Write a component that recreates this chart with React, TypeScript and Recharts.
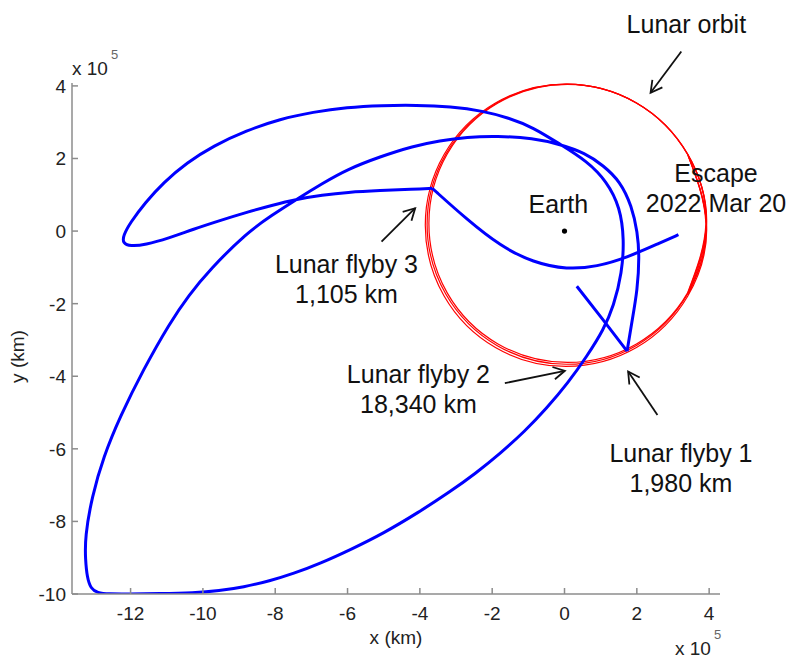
import { ComposedChart, Line, Scatter, XAxis, YAxis, ReferenceDot, ReferenceLine } from "recharts";

// all positions in units of 1e5 km
const xTicks = [-12, -10, -8, -6, -4, -2, 0, 2, 4];
const yTicks = [-10, -8, -6, -4, -2, 0, 2, 4];

// lunar orbit, traced three times (slightly different passes)
const orbitA = [
  { x: 3.40, y: -1.74 }, { x: 3.92, y: 0.19 }, { x: 3.40, y: 2.12 }, { x: 1.99, y: 3.53 },
  { x: 0.06, y: 4.05 }, { x: -1.87, y: 3.53 }, { x: -3.28, y: 2.12 }, { x: -3.80, y: 0.19 },
  { x: -3.28, y: -1.74 }, { x: -1.87, y: -3.15 }, { x: 0.06, y: -3.67 }, { x: 1.99, y: -3.15 },
  { x: 3.40, y: -1.74 }, { x: 3.92, y: 0.19 }, { x: 3.40, y: 2.12 },
];
const orbitB = [
  { x: 3.41, y: -1.79 }, { x: 3.93, y: 0.16 }, { x: 3.41, y: 2.11 }, { x: 1.99, y: 3.53 },
  { x: 0.04, y: 4.05 }, { x: -1.91, y: 3.53 }, { x: -3.33, y: 2.11 }, { x: -3.85, y: 0.16 },
  { x: -3.33, y: -1.79 }, { x: -1.91, y: -3.21 }, { x: 0.04, y: -3.73 }, { x: 1.99, y: -3.21 },
  { x: 3.41, y: -1.79 }, { x: 3.93, y: 0.16 }, { x: 3.41, y: 2.11 },
];
const orbitC = [
  { x: 3.40, y: -1.71 }, { x: 3.91, y: 0.21 }, { x: 3.40, y: 2.13 }, { x: 1.99, y: 3.53 },
  { x: 0.08, y: 4.04 }, { x: -1.84, y: 3.53 }, { x: -3.24, y: 2.13 }, { x: -3.75, y: 0.21 },
  { x: -3.24, y: -1.71 }, { x: -1.84, y: -3.11 }, { x: 0.08, y: -3.62 }, { x: 1.99, y: -3.11 },
  { x: 3.40, y: -1.71 }, { x: 3.91, y: 0.21 }, { x: 3.40, y: 2.13 },
];

// trajectory: start -> flyby 1
const startLeg = [
  { x: 0.34, y: -1.52 }, { x: 1.03, y: -2.40 }, { x: 1.73, y: -3.31 },
];

// flyby 1 -> big loop -> flyby 2 -> phasing loop -> flyby 3
const loopLeg = [
  { x: 1.73, y: -3.31 }, { x: 1.86, y: -2.52 }, { x: 2.02, y: -1.61 }, { x: 2.07, y: -0.69 },
  { x: 2.02, y: -0.04 }, { x: 1.86, y: 0.69 }, { x: 1.54, y: 1.37 }, { x: 1.07, y: 1.81 },
  { x: 0.57, y: 2.15 }, { x: -0.12, y: 2.39 }, { x: -0.87, y: 2.56 }, { x: -1.87, y: 2.62 },
  { x: -2.70, y: 2.59 }, { x: -3.45, y: 2.49 }, { x: -4.19, y: 2.34 }, { x: -5.10, y: 2.05 },
  { x: -6.01, y: 1.70 }, { x: -6.70, y: 1.31 }, { x: -7.40, y: 0.88 }, { x: -8.10, y: 0.43 },
  { x: -8.78, y: -0.04 }, { x: -9.81, y: -1.06 }, { x: -10.40, y: -1.78 }, { x: -10.91, y: -2.52 },
  { x: -11.65, y: -3.82 }, { x: -12.29, y: -5.11 }, { x: -12.75, y: -6.22 }, { x: -13.07, y: -7.32 },
  { x: -13.26, y: -8.43 }, { x: -13.25, y: -9.05 }, { x: -13.20, y: -9.55 }, { x: -13.10, y: -9.85 },
  { x: -12.92, y: -9.97 }, { x: -12.60, y: -10.0 }, { x: -12.10, y: -10.0 }, { x: -11.20, y: -9.99 },
  { x: -10.26, y: -9.97 }, { x: -9.55, y: -9.91 }, { x: -8.88, y: -9.81 }, { x: -8.15, y: -9.64 },
  { x: -7.50, y: -9.44 }, { x: -6.76, y: -9.16 }, { x: -5.90, y: -8.77 }, { x: -5.01, y: -8.33 },
  { x: -4.05, y: -7.76 }, { x: -3.16, y: -7.18 }, { x: -2.45, y: -6.67 }, { x: -1.78, y: -6.13 },
  { x: -1.10, y: -5.52 }, { x: -0.50, y: -4.89 }, { x: 0.10, y: -4.18 }, { x: 0.62, y: -3.45 },
  { x: 1.08, y: -2.72 }, { x: 1.36, y: -2.07 }, { x: 1.59, y: -1.15 }, { x: 1.65, y: -0.23 },
  { x: 1.54, y: 0.65 }, { x: 1.17, y: 1.37 }, { x: 0.62, y: 1.93 }, { x: -0.12, y: 2.39 },
  { x: -0.87, y: 2.86 }, { x: -1.55, y: 3.12 }, { x: -2.25, y: 3.31 }, { x: -3.15, y: 3.43 },
  { x: -4.10, y: 3.47 }, { x: -5.05, y: 3.46 }, { x: -6.02, y: 3.41 }, { x: -6.95, y: 3.28 },
  { x: -7.86, y: 3.09 }, { x: -8.80, y: 2.77 }, { x: -9.71, y: 2.35 }, { x: -10.45, y: 1.88 },
  { x: -11.09, y: 1.34 }, { x: -11.60, y: 0.78 }, { x: -12.01, y: 0.23 }, { x: -12.20, y: -0.12 },
  { x: -12.22, y: -0.33 }, { x: -12.00, y: -0.42 }, { x: -11.60, y: -0.38 }, { x: -10.95, y: -0.20 },
  { x: -10.27, y: 0.05 }, { x: -9.50, y: 0.30 }, { x: -8.78, y: 0.52 }, { x: -8.10, y: 0.71 },
  { x: -7.40, y: 0.88 }, { x: -6.70, y: 0.99 }, { x: -6.01, y: 1.07 }, { x: -5.10, y: 1.12 },
  { x: -4.19, y: 1.15 }, { x: -3.66, y: 1.18 },
];

// flyby 3 -> escape
const escapeLeg = [
  { x: -3.66, y: 1.18 }, { x: -2.70, y: 0.32 }, { x: -1.78, y: -0.41 }, { x: -0.86, y: -0.87 },
  { x: 0.07, y: -1.06 }, { x: 0.90, y: -0.98 }, { x: 1.73, y: -0.73 }, { x: 2.65, y: -0.32 },
  { x: 3.15, y: -0.10 },
];

const earth = [{ x: 0, y: 0 }];

const notes = [
  { x: 3.37, y: 5.46, lines: ["Lunar orbit"] },
  { x: 4.19, y: 1.36, lines: ["Escape", "2022 Mar 20"] },
  { x: -0.17, y: 0.51, lines: ["Earth"] },
  { x: -6.03, y: -1.16, lines: ["Lunar flyby 3", "1,105 km"] },
  { x: -4.04, y: -4.18, lines: ["Lunar flyby 2", "18,340 km"] },
  { x: 3.22, y: -6.36, lines: ["Lunar flyby 1", "1,980 km"] },
];

const arrows = [
  { from: { x: 3.23, y: 4.95 }, to: { x: 2.38, y: 3.81 } },
  { from: { x: -5.06, y: -0.29 }, to: { x: -4.13, y: 0.63 } },
  { from: { x: -1.65, y: -4.19 }, to: { x: 0.01, y: -3.85 } },
  { from: { x: 2.57, y: -5.07 }, to: { x: 1.76, y: -3.87 } },
];

const FONT = "'Liberation Sans', Arial, sans-serif";
const AXIS = "#8c8c8c";

function YTick(props: any) {
  const { x, y, payload } = props;
  return (
    <g>
      <line x1={x} y1={y} x2={x + 6} y2={y} stroke={AXIS} strokeWidth={1.5} />
      <text x={x - 6} y={y + 7} textAnchor="end" fontSize={19} fontFamily={FONT} fill="#222">
        {payload.value}
      </text>
    </g>
  );
}

function XTick(props: any) {
  const { x, y, payload } = props;
  return (
    <g>
      <line x1={x} y1={y} x2={x} y2={y - 6} stroke={AXIS} strokeWidth={1.5} />
      <text x={x} y={y + 26} textAnchor="middle" fontSize={19} fontFamily={FONT} fill="#222">
        {payload.value}
      </text>
    </g>
  );
}

function Exponent({ x, y }: { x: number; y: number }) {
  return (
    <g fontFamily={FONT}>
      <text x={x} y={y} fontSize={19} fill="#222">x 10</text>
      <text x={x + 39} y={y - 16} fontSize={13} fill="#666">5</text>
    </g>
  );
}

const makeNote = (lines: string[]) => (p: any) => (
  <text x={p.cx} y={p.cy} textAnchor="middle" fontSize={25} fontFamily={FONT} fill="#111">
    {lines.map((l, i) => (
      <tspan key={i} x={p.cx} dy={i ? 30 : 0}>{l}</tspan>
    ))}
  </text>
);

function Arrow(p: any) {
  const { x1, y1, x2, y2 } = p;
  const a = Math.atan2(y2 - y1, x2 - x1);
  const len = 13;
  const spread = 0.5;
  const h1x = x2 - len * Math.cos(a - spread);
  const h1y = y2 - len * Math.sin(a - spread);
  const h2x = x2 - len * Math.cos(a + spread);
  const h2y = y2 - len * Math.sin(a + spread);
  return (
    <g stroke="#111" strokeWidth={1.8} fill="none">
      <line x1={x1} y1={y1} x2={x2} y2={y2} />
      <polyline points={`${h1x},${h1y} ${x2},${y2} ${h2x},${h2y}`} />
    </g>
  );
}

const blue = { stroke: "#0000ff", strokeWidth: 3, dot: false, activeDot: false, isAnimationActive: false } as const;

export default function App() {
  return (
    <div style={{ position: "absolute", left: 0, top: 0 }}>
      <ComposedChart width={789} height={658} margin={{ top: 83, right: 69, bottom: 0, left: 0 }}>
        <XAxis
          type="number"
          dataKey="x"
          domain={[-13.62, 4.3]}
          ticks={xTicks}
          allowDataOverflow
          height={64}
          tickSize={0}
          tickMargin={0}
          tickLine={false}
          axisLine={{ stroke: AXIS, strokeWidth: 1.5 }}
          tick={<XTick />}
          interval={0}
          label={{
            content: (lp: any) => {
              const vb = lp.viewBox;
              return (
                <g>
                  <text x={vb.x + vb.width / 2} y={vb.y + 50} textAnchor="middle" fontSize={19} fontFamily={FONT} fill="#222">
                    x (km)
                  </text>
                  <Exponent x={vb.x + vb.width - 45} y={vb.y + 61} />
                </g>
              );
            },
          }}
        />
        <YAxis
          type="number"
          dataKey="y"
          domain={[-10, 4.08]}
          ticks={yTicks}
          allowDataOverflow
          width={72}
          tickSize={0}
          tickMargin={0}
          tickLine={false}
          axisLine={{ stroke: AXIS, strokeWidth: 1.5 }}
          tick={<YTick />}
          interval={0}
          label={{
            content: (lp: any) => {
              const vb = lp.viewBox;
              const cy = vb.y + vb.height / 2 + 18;
              return (
                <g>
                  <text
                    x={24}
                    y={cy}
                    textAnchor="middle"
                    fontSize={19}
                    fontFamily={FONT}
                    fill="#222"
                    transform={`rotate(-90 24 ${cy})`}
                  >
                    y (km)
                  </text>
                  <Exponent x={vb.x + vb.width} y={vb.y - 8} />
                </g>
              );
            },
          }}
        />
        {[orbitA, orbitB, orbitC].map((o, i) => (
          <Line
            key={i}
            data={o}
            dataKey="y"
            type="natural"
            stroke="#ff0000"
            strokeWidth={1.2}
            dot={false}
            activeDot={false}
            isAnimationActive={false}
          />
        ))}
        <Line data={startLeg} dataKey="y" type="linear" {...blue} />
        <Line data={loopLeg} dataKey="y" type="basis" {...blue} />
        <Line data={escapeLeg} dataKey="y" type="basis" {...blue} />
        <Scatter
          data={earth}
          dataKey="y"
          isAnimationActive={false}
          shape={(p: any) => <circle cx={p.cx} cy={p.cy} r={2.6} fill="#000" />}
        />
        {arrows.map((a, i) => (
          <ReferenceLine key={i} segment={[a.from, a.to]} ifOverflow="visible" shape={Arrow} />
        ))}
        {notes.map((n, i) => (
          <ReferenceDot key={i} x={n.x} y={n.y} r={0} ifOverflow="visible" shape={makeNote(n.lines)} />
        ))}
      </ComposedChart>
    </div>
  );
}
